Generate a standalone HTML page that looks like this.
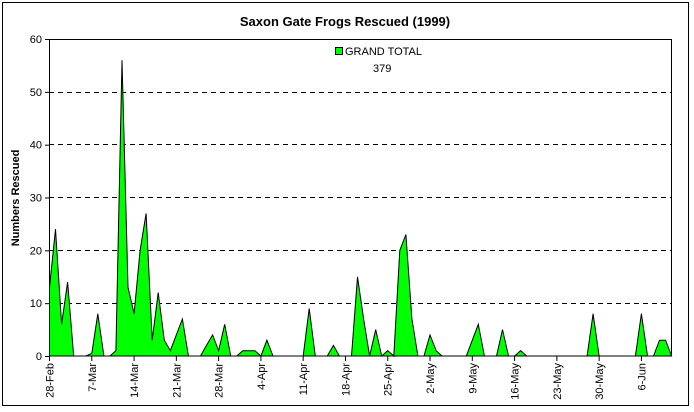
<!DOCTYPE html>
<html><head><meta charset="utf-8"><style>
html,body{margin:0;padding:0;background:#fff;}
svg{display:block;font-family:"Liberation Sans",Arial,sans-serif;}
</style></head><body>
<svg id="s" width="694" height="412" viewBox="0 0 694 412" xmlns="http://www.w3.org/2000/svg">
<rect x="0" y="0" width="694" height="412" fill="#fff"/>
<rect x="2.5" y="2.5" width="686" height="403" fill="none" stroke="#000" stroke-width="1"/>
<text x="345" y="26" text-anchor="middle" font-size="13" font-weight="bold">Saxon Gate Frogs Rescued (1999)</text>
<g stroke="#000" stroke-dasharray="5,4" stroke-width="1">
<line x1="49" x2="672" y1="303.5" y2="303.5"/>
<line x1="49" x2="672" y1="250.5" y2="250.5"/>
<line x1="49" x2="672" y1="197.5" y2="197.5"/>
<line x1="49" x2="672" y1="144.5" y2="144.5"/>
<line x1="49" x2="672" y1="92.5" y2="92.5"/>
</g>
<polygon id="area" fill="#00ff00" stroke="#000" stroke-width="1"/>
<rect x="49.5" y="39.5" width="622" height="316.5" fill="none" stroke="#000" stroke-width="1"/>
<g id="yt" font-size="11" text-anchor="end"></g>
<g id="xt" font-size="11"></g>
<text transform="translate(19,198) rotate(-90)" text-anchor="middle" font-size="11" font-weight="bold">Numbers Rescued</text>
<rect x="335.5" y="47.5" width="7" height="7" fill="#00ff00" stroke="#000"/>
<text x="345" y="55" font-size="11">GRAND TOTAL</text>
<text x="373" y="72" font-size="11">379</text>
</svg>
<script>
var d={0:13,1:24,2:6,3:14,4:0,7:0.5,8:8,9:0,10:0,11:1,12:56,13:13,14:8,15:20,16:27,17:3,18:12,19:3,20:1,21:4,22:7,23:0,26:2,27:4,28:1,29:6,30:0,31:0,32:1,33:1,34:1,35:0,36:3,37:0,43:9,47:2,50:0,51:15,52:7,53:0,54:5,55:0,56:1,57:0,58:20,59:23,60:7,61:0,63:4,64:1,65:0,69:0,70:3,71:6,72:0,75:5,78:1,90:8,98:8,100:0,101:3,102:3,103:0};
var dx=6.04,x0=49.5,y0=356,k=5.283;
var pts=[x0+","+y0];
for(var i=0;i<=103;i++){var v=d[i]||0;pts.push((x0+i*dx).toFixed(1)+","+(y0-v*k).toFixed(1));}
pts.push((x0+103*dx).toFixed(1)+","+y0);
document.getElementById('area').setAttribute('points',pts.join(' '));
var ns="http://www.w3.org/2000/svg",s=document.getElementById('s');
var yt=document.getElementById('yt');
for(var v=0;v<=60;v+=10){var t=document.createElementNS(ns,'text');t.setAttribute('x',42);t.setAttribute('y',y0-v*k+4);t.textContent=v;yt.appendChild(t);
var l=document.createElementNS(ns,'line');l.setAttribute('x1',45);l.setAttribute('x2',49.5);l.setAttribute('y1',y0-v*k+0.5);l.setAttribute('y2',y0-v*k+0.5);l.setAttribute('stroke','#000');s.appendChild(l);}
var labs=["28-Feb","7-Mar","14-Mar","21-Mar","28-Mar","4-Apr","11-Apr","18-Apr","25-Apr","2-May","9-May","16-May","23-May","30-May","6-Jun"];
var xt=document.getElementById('xt');
labs.forEach(function(L,j){var x=x0+j*7*dx;
var l=document.createElementNS(ns,'line');l.setAttribute('x1',x);l.setAttribute('x2',x);l.setAttribute('y1',356);l.setAttribute('y2',361);l.setAttribute('stroke','#000');s.appendChild(l);
var t=document.createElementNS(ns,'text');t.setAttribute('text-anchor','end');t.setAttribute('transform','translate('+(x+4)+',363) rotate(-90)');t.textContent=L;xt.appendChild(t);});
</script>
</body></html>
